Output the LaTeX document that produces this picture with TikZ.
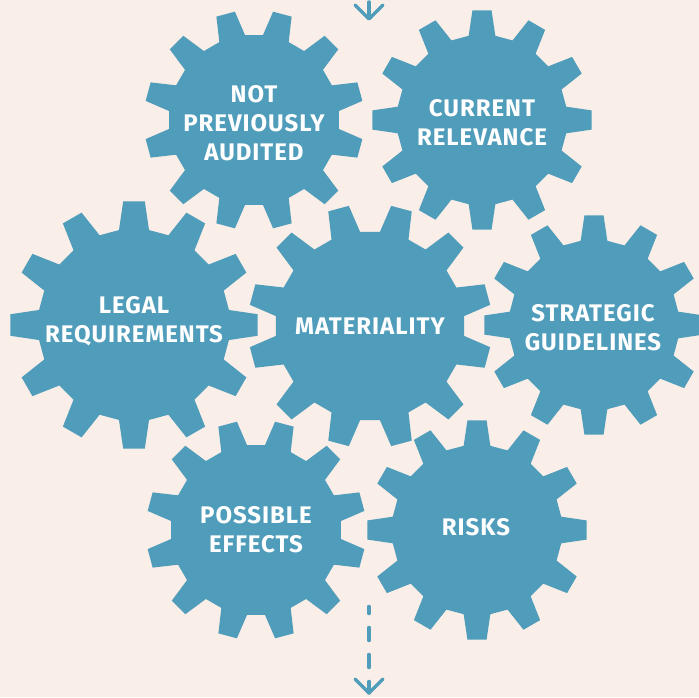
\documentclass[tikz,border=0pt]{standalone}
\usepackage{fontspec}
\setmainfont{Fira Sans}
\newfontfamily\gearfont[LetterSpace=4]{Fira Sans}
\definecolor{gearblue}{RGB}{80,157,187}
\definecolor{bgcol}{RGB}{249,238,232}
\newcommand\gearshape[4]{%
  \fill[gearblue] ({#1+0.775*#3*cos(#4-9)},{#2+0.775*#3*sin(#4-9)})
  \foreach \k in {0,...,11}{
    -- ({#1+0.775*#3*cos(#4+30*\k-9)},{#2+0.775*#3*sin(#4+30*\k-9)})
    -- ({#1+#3*cos(#4+30*\k-5)},{#2+#3*sin(#4+30*\k-5)})
    -- ({#1+#3*cos(#4+30*\k+5)},{#2+#3*sin(#4+30*\k+5)})
    -- ({#1+0.775*#3*cos(#4+30*\k+9)},{#2+0.775*#3*sin(#4+30*\k+9)})
  } -- cycle;}
\tikzset{
  label/.style={text=white, font=\gearfont\fontsize{24}{29}\selectfont\bfseries, align=center, inner sep=0pt},
  arrowline/.style={draw=gearblue, line width=3.5pt, line cap=round, line join=round},
}
\begin{document}
\begin{tikzpicture}[x=1pt,y=-1pt]
\fill[bgcol] (0,0) rectangle (699,697);
\useasboundingbox (0,0) rectangle (699,697);
% gears
\gearshape{254}{120}{110}{15}
\gearshape{482}{120}{110}{0}
\gearshape{134}{325}{124}{0}
\gearshape{594}{325}{110}{0}
\gearshape{256}{530}{110}{15}
\gearshape{477}{530}{110}{0}
\gearshape{370}{326}{122}{15}
% labels
\node[label] (npa) at (254,123) {NOT\\PREVIOUSLY\\AUDITED};
\node[label] (cr) at (482,123) {CURRENT\\RELEVANCE};
\node[label] (lr) at (134,321) {LEGAL\\REQUIREMENTS};
\node[label] (mat) at (370,326) {MATERIALITY};
\node[label] (sg) at (593,328) {STRATEGIC\\GUIDELINES};
\node[label] (pe) at (256,530) {POSSIBLE\\EFFECTS};
\node[label] (rk) at (476,527) {RISKS};
% top arrow
\coordinate (ttop) at (369,-20);
\coordinate (ttip) at (369,19);
\draw[arrowline, dash pattern=on 13pt off 14pt, dash phase=5pt] (ttop) -- (ttip);
\draw[arrowline] (355,5) -- (ttip) -- (383,5);
% bottom arrow
\coordinate (bstart) at (369,606.5);
\coordinate (btip) at (369,693);
\draw[arrowline, dash pattern=on 13pt off 14pt, dash phase=6pt] (bstart) -- (btip);
\draw[arrowline] (355,679) -- (btip) -- (383,679);
\end{tikzpicture}
\end{document}
